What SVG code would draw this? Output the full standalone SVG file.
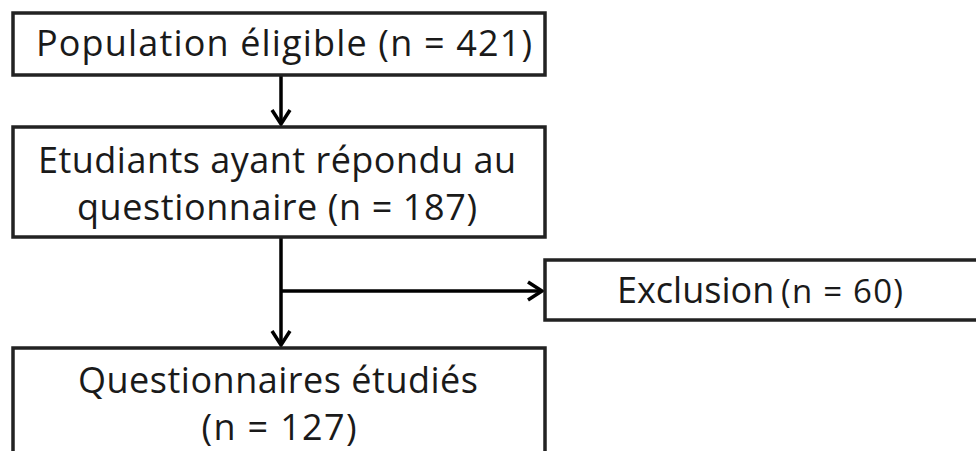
<svg xmlns="http://www.w3.org/2000/svg" width="976" height="451" viewBox="0 0 976 451">
<style>
.box{fill:#fff;stroke:#222;stroke-width:3.5}
.t{font-family:"Open Sans","Noto Sans",sans-serif;font-size:36px;fill:#1a1a1a;text-anchor:middle}
.s{font-size:33px}
.c{fill:none;stroke:#000;stroke-width:3.5}
</style>
<defs>
<marker id="ah" viewBox="-18 -12 22 24" refX="0" refY="0" markerWidth="22" markerHeight="24" markerUnits="userSpaceOnUse" orient="auto">
<path d="M-14,-9 L0,0 L-14,9" fill="none" stroke="#000" stroke-width="3.5"/>
</marker>
</defs>
<rect width="976" height="451" fill="#fff"/>
<g id="connectors">
<path class="c" d="M281,75 L281,124" marker-end="url(#ah)"/>
<path class="c" d="M281,237 L281,345" marker-end="url(#ah)"/>
<path class="c" d="M281,291 L542,291" marker-end="url(#ah)"/>
</g>
<g id="n1">
<rect class="box" x="13" y="13" width="532" height="62"/>
<text class="t" x="284" y="56" textLength="496">Population éligible (n = 421)</text>
</g>
<g id="n2">
<rect class="box" x="13" y="127" width="532" height="110"/>
<text class="t" x="277" y="173" textLength="478">Etudiants ayant répondu au</text>
<text class="t" x="277" y="220" textLength="400">questionnaire (n = 187)</text>
</g>
<g id="n3">
<rect class="box" x="545" y="260" width="460" height="60"/>
<text class="t" y="303" style="text-anchor:start"><tspan x="617">Exclusion</tspan> <tspan x="781" class="s" textLength="122">(n = 60)</tspan></text>
</g>
<g id="n4">
<rect class="box" x="13" y="348" width="532" height="130"/>
<text class="t" x="278" y="393" textLength="400">Questionnaires étudiés</text>
<text class="t" x="279" y="440" textLength="155">(n = 127)</text>
</g>
</svg>
